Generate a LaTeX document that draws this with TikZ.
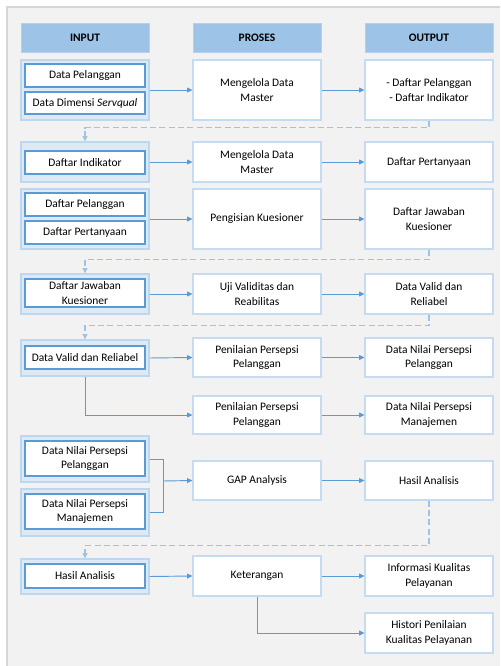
\documentclass[tikz,border=0pt]{standalone}
\usepackage{fontspec}
\setmainfont{Carlito}
\usetikzlibrary{arrows.meta}
\definecolor{panel}{HTML}{F2F2F2}
\definecolor{panelline}{HTML}{D6D6D6}
\definecolor{hdrfill}{HTML}{9DC3E6}
\definecolor{hdrline}{HTML}{B4D0EC}
\definecolor{grpfill}{HTML}{DDEAF6}
\definecolor{grpline}{HTML}{BDD7EE}
\definecolor{inline}{HTML}{5B9BD5}
\definecolor{pline}{HTML}{C5DBF1}
\definecolor{arrowc}{HTML}{5B9BD5}
\definecolor{dashc}{HTML}{9DC3E6}
\newcommand{\mybox}[7]{\node[#1, minimum width={(#5-#3)*0.75pt}, minimum height={(#6-#4)*0.75pt}] (#2) at ({(#3+#5)/2},{(#4+#6)/2}) {#7};}
\begin{document}
\begin{tikzpicture}[x=0.75pt,y=-0.75pt,
  font=\fontsize{8.6}{10.7}\selectfont,
  hdr/.style={draw=hdrline, fill=hdrfill, line width=0.6pt, inner sep=0pt, font=\fontsize{8.6}{10.7}\selectfont\bfseries},
  grp/.style={draw=grpline, fill=grpfill, line width=0.8pt, inner sep=0pt},
  inb/.style={draw=inline, fill=white, line width=0.8pt, inner sep=0pt, align=center},
  pb/.style={draw=pline, fill=white, line width=0.8pt, inner sep=0pt, align=center},
  flow/.style={draw=arrowc, line width=0.7pt, -{Triangle[length=4pt,width=3.6pt]}},
  back/.style={draw=dashc, line width=1pt, dash pattern=on 4.5pt off 2.5pt, -{Triangle[length=4pt,width=3.6pt]}}]
\useasboundingbox (0,0) rectangle (500,666);
\fill[white] (0,0) rectangle (500,666);
\fill[panel] (7,7) rectangle (500,666);
\draw[panelline, line width=0.8pt] (7,666) -- (7,7) -- (500,7);

% headers
\mybox{hdr}{hin}{21}{23}{149}{52}{INPUT}
\mybox{hdr}{hpr}{193}{23}{321}{52}{PROSES}
\mybox{hdr}{hout}{365}{23}{493}{52}{OUTPUT}

% row 1
\mybox{grp}{g1}{21}{60}{149}{120}{}
\mybox{inb}{i1a}{25}{64}{145}{87}{Data Pelanggan}
\mybox{inb}{i1b}{25}{92}{145}{114}{Data Dimensi \textit{Servqual}}
\mybox{pb}{p1}{193}{60}{321}{120}{Mengelola Data\\Master}
\mybox{pb}{o1}{365}{60}{493}{120}{- Daftar Pelanggan\\- Daftar Indikator}

% row 2
\mybox{grp}{g2}{21}{142}{149}{182}{}
\mybox{inb}{i2}{25}{151}{145}{174}{Daftar Indikator}
\mybox{pb}{p2}{193}{142}{321}{182}{Mengelola Data\\Master}
\mybox{pb}{o2}{365}{142}{493}{182}{Daftar Pertanyaan}

% row 3
\mybox{grp}{g3}{21}{189}{149}{249}{}
\mybox{inb}{i3a}{25}{193}{145}{216}{Daftar Pelanggan}
\mybox{inb}{i3b}{25}{221}{145}{244}{Daftar Pertanyaan}
\mybox{pb}{p3}{193}{189}{321}{249}{Pengisian Kuesioner}
\mybox{pb}{o3}{365}{189}{493}{249}{Daftar Jawaban\\Kuesioner}

% row 4
\mybox{grp}{g4}{21}{274}{149}{314}{}
\mybox{inb}{i4}{25}{279}{145}{307}{Daftar Jawaban\\Kuesioner}
\mybox{pb}{p4}{193}{274}{321}{314}{Uji Validitas dan\\Reabilitas}
\mybox{pb}{o4}{365}{274}{493}{314}{Data Valid dan\\Reliabel}

% row 5
\mybox{grp}{g5}{21}{340}{149}{376}{}
\mybox{inb}{i5}{25}{346}{145}{369}{Data Valid dan Reliabel}
\mybox{pb}{p5}{193}{338}{321}{377}{Penilaian Persepsi\\Pelanggan}
\mybox{pb}{o5}{365}{338}{493}{377}{Data Nilai Persepsi\\Pelanggan}
\mybox{pb}{p5b}{193}{396}{321}{434}{Penilaian Persepsi\\Pelanggan}
\mybox{pb}{o5b}{365}{396}{493}{434}{Data Nilai Persepsi\\Manajemen}

% row 6
\mybox{grp}{g6a}{21}{436}{149}{482}{}
\mybox{inb}{i6a}{25}{441}{145}{476}{Data Nilai Persepsi\\Pelanggan}
\mybox{grp}{g6b}{21}{489}{149}{536}{}
\mybox{inb}{i6b}{25}{494}{145}{529}{Data Nilai Persepsi\\Manajemen}
\mybox{pb}{p6}{193}{461}{321}{500}{GAP Analysis}
\mybox{pb}{o6}{365}{461}{493}{500}{Hasil Analisis}

% row 7
\mybox{grp}{g7}{21}{559}{149}{594}{}
\mybox{inb}{i7}{25}{564}{145}{588}{Hasil Analisis}
\mybox{pb}{p7}{193}{556}{321}{596}{Keterangan}
\mybox{pb}{o7a}{365}{556}{493}{596}{Informasi Kualitas\\Pelayanan}
\mybox{pb}{o7b}{365}{613}{493}{653}{Histori Penilaian\\Kualitas Pelayanan}

% flows
\draw[flow] (g1.east) -- (p1.west);
\draw[flow] (p1.east) -- (o1.west);
\draw[flow] (g2.east) -- (p2.west);
\draw[flow] (p2.east) -- (o2.west);
\draw[flow] (g3.east) -- (p3.west);
\draw[flow] (p3.east) -- (o3.west);
\draw[flow] (g4.east) -- (p4.west);
\draw[flow] (p4.east) -- (o4.west);
\draw[flow] (g5.east) -- (p5.west);
\draw[flow] (p5.east) -- (o5.west);
\draw[flow] (g5.south) |- (p5b.west);
\draw[flow] (p5b.east) -- (o5b.west);
\coordinate (j6) at (163,481);
\draw[draw=arrowc, line width=0.7pt] (g6a.east) -| (j6);
\draw[draw=arrowc, line width=0.7pt] (g6b.east) -| (j6);
\draw[flow] (j6) -- (p6.west);
\draw[flow] (p6.east) -- (o6.west);
\draw[flow] (g7.east) -- (p7.west);
\draw[flow] (p7.east) -- (o7a.west);
\draw[flow] (p7.south) |- (o7b.west);

% feedback dashed
\draw[back] (o1.south) -- ++(0,7) -| (g2.north);
\draw[back] (o3.south) -- ++(0,10) -| (g4.north);
\draw[back] (o4.south) -- ++(0,11) -| (g5.north);
\draw[back] (o6.south) -- ++(0,45) -| (g7.north);
\end{tikzpicture}
\end{document}
